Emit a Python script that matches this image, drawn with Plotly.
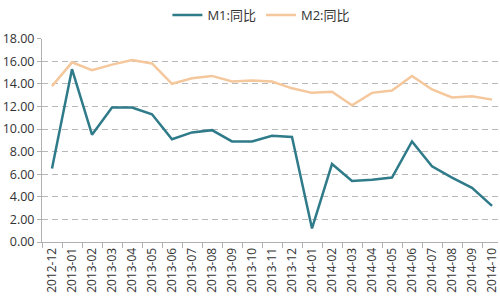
import plotly.graph_objects as go

months = ["2012-12", "2013-01", "2013-02", "2013-03", "2013-04", "2013-05", "2013-06",
          "2013-07", "2013-08", "2013-09", "2013-10", "2013-11", "2013-12", "2014-01",
          "2014-02", "2014-03", "2014-04", "2014-05", "2014-06", "2014-07", "2014-08",
          "2014-09", "2014-10"]
m1 = [6.5, 15.3, 9.5, 11.9, 11.9, 11.3, 9.1, 9.7, 9.9, 8.9, 8.9, 9.4, 9.3, 1.2,
      6.9, 5.4, 5.5, 5.7, 8.9, 6.7, 5.7, 4.8, 3.2]
m2 = [13.8, 15.9, 15.2, 15.7, 16.1, 15.8, 14.0, 14.5, 14.7, 14.2, 14.3, 14.2, 13.6, 13.2,
      13.3, 12.1, 13.2, 13.4, 14.7, 13.5, 12.8, 12.9, 12.6]
y_ticks = [0, 2, 4, 6, 8, 10, 12, 14, 16, 18]

fig = go.Figure()
fig.add_trace(go.Scatter(x=months, y=m1, mode="lines", name="M1:同比",
                         line=dict(color="#2f7b89", width=2.5)))
fig.add_trace(go.Scatter(x=months, y=m2, mode="lines", name="M2:同比",
                         line=dict(color="#f5c79c", width=2.5)))

font = dict(family="Open Sans, Noto Sans CJK SC", size=12, color="#333333")
fig.update_layout(
    width=500, height=300,
    margin=dict(l=42, r=0, t=34, b=58),
    paper_bgcolor="white", plot_bgcolor="white",
    font=font,
    showlegend=True,
    legend=dict(orientation="h", x=0.275, y=1.0, xanchor="left", yanchor="top",
                yref="container", font=dict(size=13, color="#333333"),
                bgcolor="rgba(0,0,0,0)", itemwidth=30, tracegroupgap=0,
                borderwidth=0),
    xaxis=dict(type="category", range=[-0.5, 22.3], tickangle=-90,
               showline=True, linecolor="#b0b0b0", linewidth=1,
               ticks="outside", tickson="boundaries", ticklen=5, tickcolor="#b0b0b0",
               showgrid=False, tickfont=dict(size=12)),
    yaxis=dict(range=[0, 18], tickvals=y_ticks,
               ticktext=[f"{v:.2f}" for v in y_ticks],
               showline=True, linecolor="#b0b0b0", linewidth=1,
               ticks="outside", ticklen=4, tickcolor="#b0b0b0",
               showgrid=True, gridcolor="#b8b8b8", griddash="6px,4px", gridwidth=1,
               zeroline=False, tickfont=dict(size=12.5)),
)
fig.write_html("out.html")
